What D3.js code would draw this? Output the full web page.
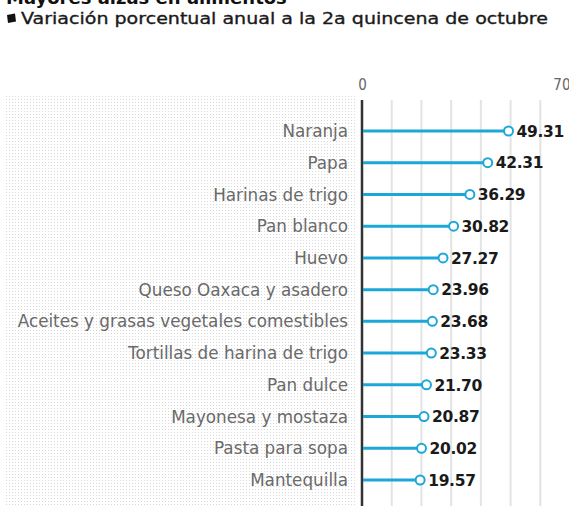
<!DOCTYPE html>
<html><head><meta charset="utf-8">
<script src="https://cdn.jsdelivr.net/npm/d3@7"></script>
<style>
html,body{margin:0;padding:0;background:#fff;overflow:hidden}
</style></head>
<body>
<svg id="chart" width="569" height="506"></svg>
<script>
const categories = ["Naranja","Papa","Harinas de trigo","Pan blanco","Huevo","Queso Oaxaca y asadero","Aceites y grasas vegetales comestibles","Tortillas de harina de trigo","Pan dulce","Mayonesa y mostaza","Pasta para sopa","Mantequilla"];
const values = [49.31,42.31,36.29,30.82,27.27,23.96,23.68,23.33,21.70,20.87,20.02,19.57];
const valueLabels = ["49.31","42.31","36.29","30.82","27.27","23.96","23.68","23.33","21.70","20.87","20.02","19.57"];
const axisTicks = [0,70];
const gridTicks = [10,20,30,40,50,60];
const title = "Mayores alzas en alimentos";
const subtitle = "Variación porcentual anual a la 2a quincena de octubre";

const svg = d3.select("#chart");
const x = d3.scaleLinear().domain([0,70]).range([362,570]);
const y = d3.scalePoint().domain(categories).range([131,480]);

// dotted background pattern
const defs = svg.append("defs");
const pat = defs.append("pattern").attr("id","dots").attr("width",3).attr("height",3).attr("patternUnits","userSpaceOnUse");
pat.append("rect").attr("width",1).attr("height",1).attr("fill","#d8d8d8");
svg.append("rect").attr("x",5).attr("y",95).attr("width",352).attr("height",411).attr("fill","url(#dots)");

// title (cut at top, as in the reference) and subtitle
svg.append("text").attr("x",6).attr("y",4).attr("font-family","'DejaVu Sans', sans-serif").attr("font-weight",700).attr("font-size",18).attr("fill","#111").text(title);
svg.append("path").attr("d","M7,15 L15,13.5 L16,21.5 L8,23 Z").attr("fill","#111");
svg.append("text").attr("x",21).attr("y",24).attr("font-family","'DejaVu Sans', sans-serif").attr("font-weight",400).attr("font-size",16.5)
  .attr("textLength",527).attr("lengthAdjust","spacingAndGlyphs")
  .attr("fill","#1a1a1a").attr("stroke","#1a1a1a").attr("stroke-width",0.35).text(subtitle);

// grid lines
svg.append("g").selectAll("line").data(gridTicks).join("line")
  .attr("x1",d=>x(d)).attr("x2",d=>x(d)).attr("y1",100).attr("y2",506)
  .attr("stroke","#e3e3e3").attr("stroke-width",2);

// top axis labels
const axis = d3.axisTop(x).tickValues(axisTicks).tickSize(0).tickFormat(d3.format("d"));
const ag = svg.append("g").attr("transform","translate(0,93)").call(axis);
ag.attr("font-size",null).attr("font-family",null);
ag.select(".domain").remove();
ag.selectAll("text")
  .style("font-family","'DejaVu Sans Condensed', 'DejaVu Sans', sans-serif")
  .style("font-size","15px").attr("fill","#666");
ag.selectAll(".tick").filter(d=>d===70).select("text").attr("text-anchor","end").attr("dx",0);

// zero axis line
svg.append("line").attr("x1",x(0)).attr("x2",x(0)).attr("y1",100).attr("y2",506).attr("stroke","#333").attr("stroke-width",2.5);

// category labels
svg.append("g").selectAll("text").data(categories).join("text")
  .attr("x",348).attr("y",d=>y(d)).attr("dy","0.36em").attr("text-anchor","end")
  .attr("font-family","'DejaVu Sans', sans-serif").attr("font-size",16.8).attr("fill","#6a6a6a")
  .text(d=>d);

const rows = categories.map((c,i)=>({c, v: values[i], l: valueLabels[i]}));
const g = svg.append("g");
g.selectAll("line.stem").data(rows).join("line").attr("class","stem")
  .attr("x1",x(0)+1).attr("x2",d=>x(d.v)).attr("y1",d=>y(d.c)).attr("y2",d=>y(d.c))
  .attr("stroke","#1ba8d8").attr("stroke-width",3);
g.selectAll("circle").data(rows).join("circle")
  .attr("cx",d=>x(d.v)).attr("cy",d=>y(d.c)).attr("r",4.5)
  .attr("fill","#fff").attr("stroke","#1ba8d8").attr("stroke-width",2);
g.selectAll("text.val").data(rows).join("text").attr("class","val")
  .attr("x",d=>x(d.v)+8).attr("y",d=>y(d.c)).attr("dy","0.37em")
  .attr("font-family","'DejaVu Sans', sans-serif").attr("font-weight",700).attr("font-size",15.5).attr("fill","#1a1a1a")
  .attr("letter-spacing",-0.3)
  .text(d=>d.l);
</script>
</body></html>
